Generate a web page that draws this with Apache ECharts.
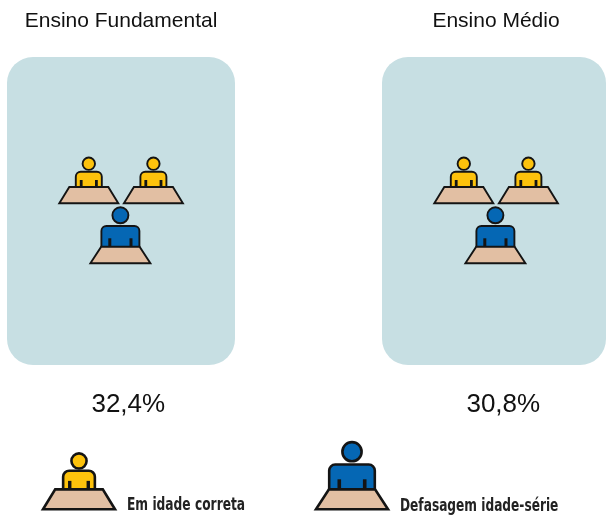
<!DOCTYPE html>
<html><head><meta charset="utf-8">
<style>html,body{margin:0;padding:0;background:#fff}#c{width:606px;height:515px}</style>
<script src="https://cdn.jsdelivr.net/npm/echarts@6/dist/echarts.min.js"></script>
</head><body><div id="c"></div>
<script>
const categories = ['Ensino Fundamental', 'Ensino Médio'];
const values = [32.4, 30.8];
const legendLabels = ['Em idade correta', 'Defasagem idade-série'];

const YELLOW = '#fdc20c', BLUE = '#0567b4', DESK = '#e2bfa3', PANEL = '#c7dfe3', INK = '#141414';
const SMALL = {fill: YELLOW, r: 6.2, cy: -39.6, bw: 13, bt: -31.6, dy: -16.3, dt: 19.5, db: 29.5, ax: 7.6, at: -23.3};
const LARGE = {fill: BLUE, r: 8, cy: -48, bw: 19, bt: -37.3, dy: -16.6, dt: 19.2, db: 30, ax: 10.6, at: -25};

function icon(x, y, p, s, lw, aw) {
  const sty = f => ({fill: f, stroke: INK, lineWidth: lw});
  const bw = p.bw * s, bt = y + p.bt * s, dy = y + p.dy * s, rr = 5 * s;
  return {type: 'group', children: [
    {type: 'circle', shape: {cx: x, cy: y + p.cy * s, r: p.r * s}, style: sty(p.fill)},
    {type: 'rect', shape: {x: x - bw, y: bt, width: 2 * bw, height: dy - bt + 1, r: [rr, rr, 0, 0]}, style: sty(p.fill)},
    {type: 'rect', shape: {x: x - p.ax * s - aw / 2, y: y + p.at * s, width: aw, height: dy - y - p.at * s}, style: {fill: INK}},
    {type: 'rect', shape: {x: x + p.ax * s - aw / 2, y: y + p.at * s, width: aw, height: dy - y - p.at * s}, style: {fill: INK}},
    {type: 'polygon', shape: {points: [[x - p.dt * s, dy], [x + p.dt * s, dy], [x + p.db * s, y], [x - p.db * s, y]]}, style: sty(DESK)}
  ]};
}

function renderPanel(params, api) {
  const i = api.value(0), cx = api.coord([i, 0])[0];
  const txt = (t, x, y, size) => ({type: 'text', style: {text: t, x: x, y: y, align: 'center', verticalAlign: 'middle',
    font: size + 'px "Liberation Sans"', fill: '#111'}});
  const left = cx - 114, width = Math.min(228, 606 - left);
  return {type: 'group', children: [
    txt(categories[i], cx, 21, 21),
    {type: 'rect', shape: {x: left, y: 57, width: width, height: 308, r: 26}, style: {fill: PANEL}},
    icon(cx - 32.2, 203.3, SMALL, 1, 1.9, 2.8),
    icon(cx + 32.4, 203.3, SMALL, 1, 1.9, 2.8),
    icon(cx - 0.6, 263.3, LARGE, 1, 1.9, 3),
    txt(values[i].toFixed(1).replace('.', ',') + '%', cx + 7.3, 405, 26)
  ]};
}

const legendFont = 'bold 18px "DejaVu Sans Condensed", "DejaVu Sans"';
const chart = echarts.init(document.getElementById('c'), null, {renderer: 'canvas'});
chart.setOption({
  animation: false,
  grid: {left: 121, width: 375, top: 0, bottom: 0},
  xAxis: {type: 'category', data: categories, show: false, boundaryGap: false},
  yAxis: {type: 'value', min: 0, max: 1, show: false},
  series: [{type: 'custom', clip: false, coordinateSystem: 'cartesian2d', encode: {x: 0, y: 1},
    data: categories.map((c, i) => [i, values[i]]), renderItem: renderPanel}],
  graphic: [
    icon(79, 509.3, SMALL, 1.22, 2.6, 3.4),
    icon(352, 509.3, LARGE, 1.2, 2.6, 3.6),
    {type: 'text', x: 127, y: 505, scaleX: 0.756, style: {text: legendLabels[0], verticalAlign: 'middle', font: legendFont, fill: '#222'}},
    {type: 'text', x: 400, y: 506, scaleX: 0.752, style: {text: legendLabels[1], verticalAlign: 'middle', font: legendFont, fill: '#222'}}
  ]
});
</script></body></html>
